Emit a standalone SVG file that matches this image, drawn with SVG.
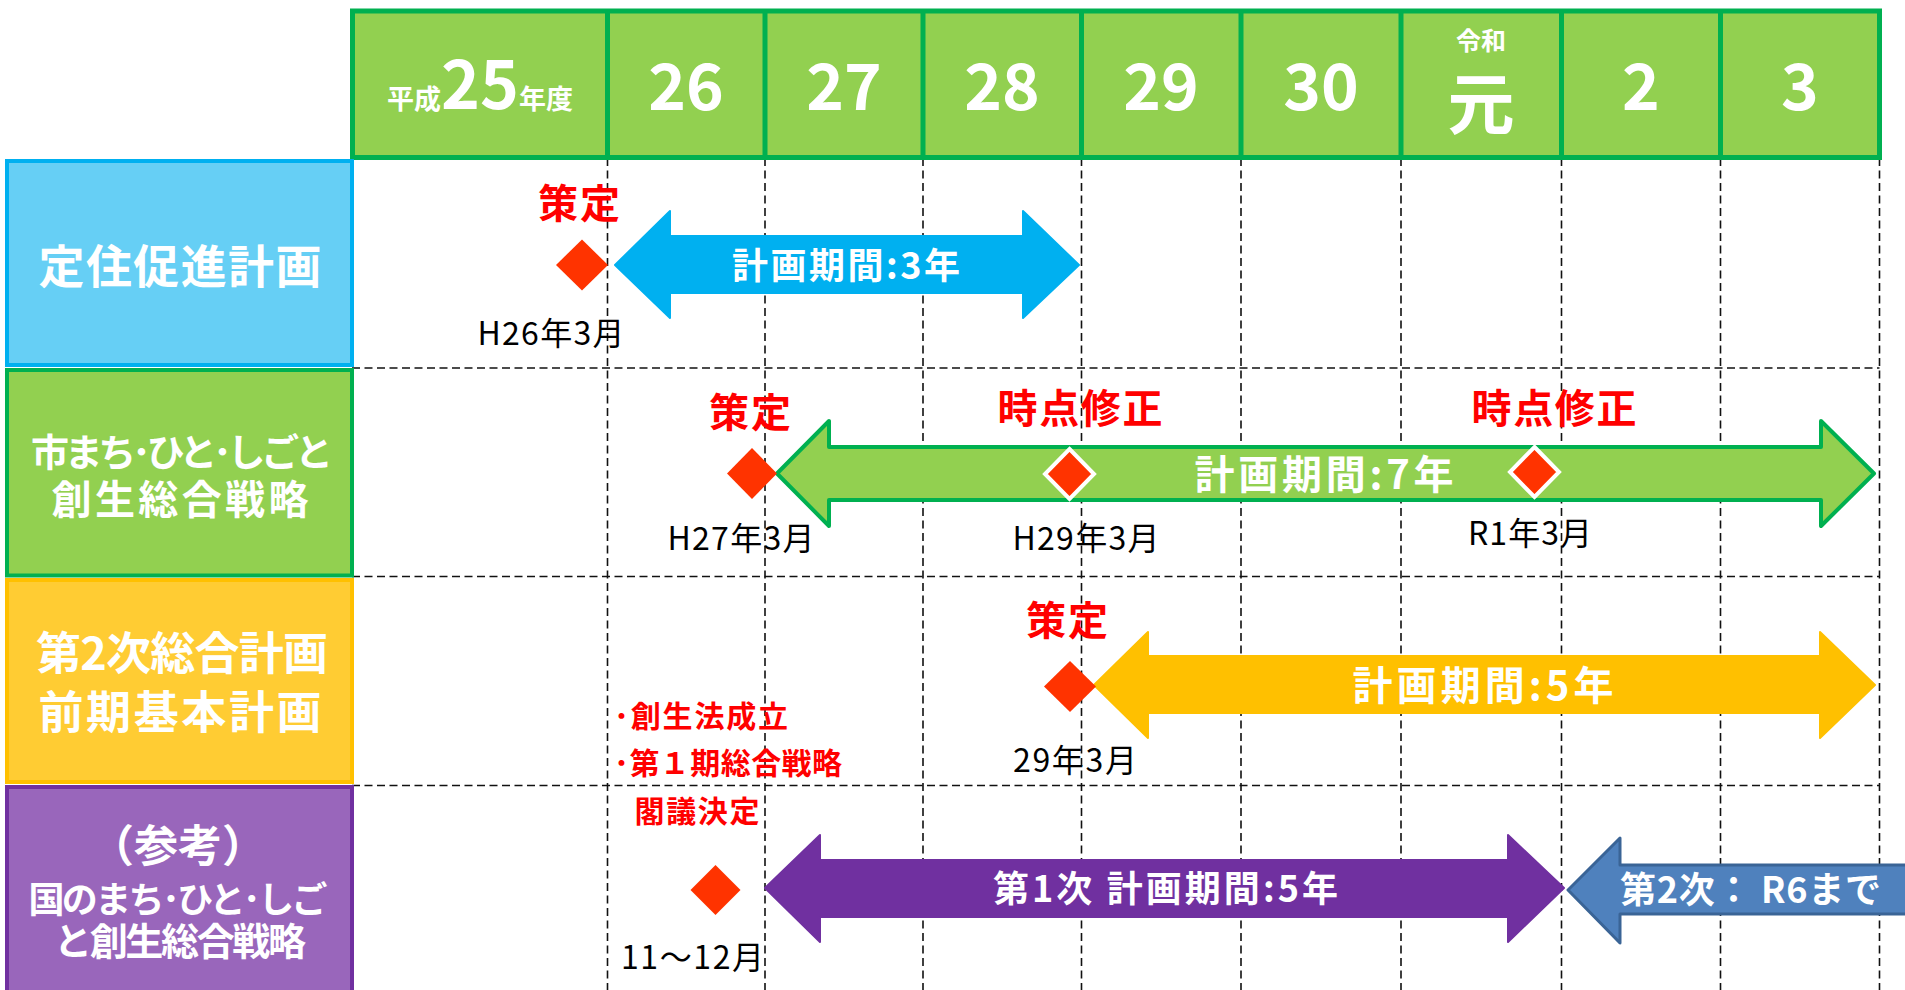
<svg xmlns="http://www.w3.org/2000/svg" width="1905" height="990" viewBox="0 0 1905 990">
<style>
text{font-family:"Noto Sans CJK JP","Noto Sans",sans-serif}
.w{fill:#fff;font-weight:700;text-anchor:middle}
.r{fill:#FF0000;font-weight:700;text-anchor:middle}
.rs{fill:#FF0000;font-weight:700}
.d{fill:#000;font-weight:400;text-anchor:middle;font-size:32px}
.grid{stroke:#111;stroke-width:1.6;stroke-dasharray:8 4.5;fill:none}
.hsep{stroke:#00B050;stroke-width:5}
.dia{fill:#FF3300}
.diaw{fill:#FF3300;stroke:#fff;stroke-width:4}
</style>
<rect width="1905" height="990" fill="#fff"/>

<g id="grid">
<path class="grid" d="M352 368H1879.5M352 576.5H1879.5M352 785.5H1879.5"/>
<path class="grid" d="M607.5 158V990M765 158V990M923 158V990M1081.5 158V990M1241 158V990M1401 158V990M1561.5 158V990M1720.5 158V990M1879.5 158V990"/>
</g>

<g id="header">
<rect x="352.5" y="11" width="1527" height="146.5" fill="#92D050" stroke="#00B050" stroke-width="5"/>
<path class="hsep" d="M607.5 11V157.5M765 11V157.5M923 11V157.5M1081.5 11V157.5M1241 11V157.5M1401 11V157.5M1561.5 11V157.5M1720.5 11V157.5"/>
<text class="w" x="480" y="109"><tspan font-size="27">平成</tspan><tspan font-size="66">25</tspan><tspan font-size="27">年度</tspan></text>
<text class="w" x="686" y="110" font-size="64">26</text>
<text class="w" x="844" y="110" font-size="64">27</text>
<text class="w" x="1002" y="110" font-size="64">28</text>
<text class="w" x="1161" y="110" font-size="64">29</text>
<text class="w" x="1321" y="110" font-size="64">30</text>
<text class="w" x="1481" y="50" font-size="25">令和</text>
<text class="w" x="1481" y="129" font-size="67">元</text>
<text class="w" x="1641" y="110" font-size="64">2</text>
<text class="w" x="1800" y="110" font-size="64">3</text>
</g>

<g id="row1-label">
<rect x="7" y="161" width="345" height="204" fill="#66CFF5" stroke="#00B0F0" stroke-width="4"/>
<text class="w" x="180" y="283" font-size="46" textLength="283">定住促進計画</text>
</g>
<g id="row2-label">
<rect x="7" y="370" width="345" height="205.5" fill="#92D050" stroke="#00B050" stroke-width="4"/>
<text class="w" x="182" y="466" font-size="38" textLength="302">市まち･ひと･しごと</text>
<text class="w" x="180" y="514" font-size="40" textLength="257">創生総合戦略</text>
</g>
<g id="row3-label">
<rect x="7" y="580" width="345" height="202" fill="#FFCC33" stroke="#FFC000" stroke-width="4"/>
<text class="w" x="182" y="670" font-size="45" textLength="292">第2次総合計画</text>
<text class="w" x="180" y="729" font-size="45" textLength="283">前期基本計画</text>
</g>
<g id="row4-label">
<rect x="7" y="787" width="345" height="210" fill="#9966BB" stroke="#7030A0" stroke-width="4"/>
<text class="w" x="178" y="862" font-size="44">（参考）</text>
<text class="w" x="178" y="913" font-size="36" textLength="299">国のまち･ひと･しご</text>
<text class="w" x="180" y="955" font-size="38" textLength="252">と創生総合戦略</text>
</g>

<g id="connectors">
<polygon id="arrow-blue" points="615,265 670,211 670,236 1023,236 1023,211 1079,265 1023,318 1023,293 670,293 670,318" fill="#00B0F0" stroke="#00B0F0" stroke-width="2" stroke-linejoin="round"/>
<polygon id="arrow-green" points="777,473.5 829,421 829,447 1821,447 1821,421 1874,473.5 1821,526 1821,500 829,500 829,526" fill="#92D050" stroke="#00B050" stroke-width="4" stroke-linejoin="round"/>
<polygon id="arrow-yellow" points="1094,685 1148,632 1148,656 1820,656 1820,632 1875,685 1820,738 1820,713 1148,713 1148,738" fill="#FFC000" stroke="#FFC000" stroke-width="2" stroke-linejoin="round"/>
<polygon id="arrow-purple" points="765,888 820,835 820,860 1508,860 1508,835 1564,888 1508,942 1508,917 820,917 820,942" fill="#7030A0" stroke="#7030A0" stroke-width="2" stroke-linejoin="round"/>
<polygon id="arrow-steel" points="1568,890 1620,838 1620,865 1912,865 1912,914 1620,914 1620,943" fill="#4F81BD" stroke="#3A6496" stroke-width="3" stroke-linejoin="round"/>
</g>

<g id="arrow-labels">
<text class="w" x="846" y="279" font-size="36" textLength="228">計画期間:3年</text>
<text class="w" x="1324" y="489" font-size="40" textLength="259">計画期間:7年</text>
<text class="w" x="1483" y="700" font-size="40" textLength="261">計画期間:5年</text>
<text class="w" x="1165.5" y="902" font-size="36" textLength="345">第1次 計画期間:5年</text>
<text fill="#fff" font-weight="700" x="1620" y="903" font-size="36" textLength="261">第2次： R6まで</text>
</g>

<g id="milestones">
<polygon class="dia" points="582,239.5 608,265 582,290.5 556,265"/>
<polygon class="dia" points="752,448 777,473.5 752,499 727,473.5"/>
<polygon class="diaw" points="1069.5,449 1094,474 1069.5,499 1045,474"/>
<polygon class="diaw" points="1534.5,447 1559,472 1534.5,497 1510,472"/>
<polygon class="dia" points="1070,661 1096,686.5 1070,712 1044,686.5"/>
<polygon class="dia" points="715.5,865 740.5,890 715.5,915 690.5,890"/>
</g>

<g id="annotations">
<text class="r" x="579" y="218" font-size="40" textLength="82">策定</text>
<text class="r" x="750" y="427" font-size="40" textLength="82">策定</text>
<text class="r" x="1080" y="423" font-size="40" textLength="165">時点修正</text>
<text class="r" x="1554" y="423" font-size="40" textLength="165">時点修正</text>
<text class="r" x="1067" y="635" font-size="40" textLength="82">策定</text>
<text class="rs" x="614" y="727" font-size="30" textLength="174">･創生法成立</text>
<text class="rs" x="614" y="774" font-size="30" textLength="228">･第１期総合戦略</text>
<text class="r" x="697" y="822" font-size="30" textLength="125">閣議決定</text>
<text class="d" x="551" y="345" textLength="147">H26年3月</text>
<text class="d" x="741" y="550" textLength="147">H27年3月</text>
<text class="d" x="1086" y="550" textLength="147">H29年3月</text>
<text class="d" x="1530" y="545" textLength="124">R1年3月</text>
<text class="d" x="1075" y="772" textLength="124">29年3月</text>
<text class="d" x="692.5" y="969" textLength="143">11～12月</text>
</g>
</svg>
